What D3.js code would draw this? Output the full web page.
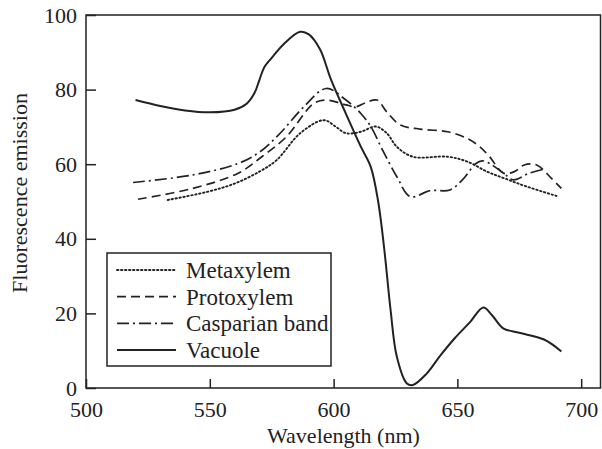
<!DOCTYPE html>
<html>
<head>
<meta charset="utf-8">
<script src="https://cdn.jsdelivr.net/npm/d3@7"></script>
<style>
  html, body { margin: 0; padding: 0; background: #fff; }
  svg { display: block; }
  text { font-family: "Liberation Serif", "Times New Roman", serif; fill: #222; }
</style>
</head>
<body>
<svg id="chart" width="602" height="449"></svg>
<script>
// ---- data ----
const xTicks = [500, 550, 600, 650, 700];
const yTicks = [0, 20, 40, 60, 80, 100];

const metaxylemX = [533, 549, 560, 570, 577, 586.5, 596, 601, 605, 611, 617, 621.5, 625.5, 632, 646, 654, 662, 669, 678, 690];
const metaxylemY = [50.4, 52.6, 54.8, 58, 61.1, 68.3, 71.8, 70, 68.3, 68.7, 70.1, 68.3, 64.7, 62, 62, 60.7, 58, 56.2, 54, 51.5];

const protoxylemX = [521, 543, 561.5, 571, 581, 592, 597, 605, 609, 613, 617.5, 621.5, 627, 635, 646, 654, 659, 663, 668.6, 673, 677, 682, 688, 692];
const protoxylemY = [50.6, 53.5, 57.6, 62, 67.4, 76.3, 77.2, 75.9, 75.4, 76.5, 77.2, 74, 70.5, 69.4, 68.7, 66.9, 64.7, 62, 57.6, 58, 59.8, 59.8, 56.2, 53.5];

const casparianX = [519, 543, 561.5, 570, 578.4, 588, 597, 605, 611, 615, 620, 625.5, 631, 639, 647, 652, 657.5, 660, 663, 668.6, 672.6, 679, 684.5];
const casparianY = [55.1, 57.1, 60.2, 63.2, 68.3, 75.4, 80.3, 77.2, 73.6, 70.1, 63.5, 56.7, 51.3, 52.9, 53.1, 55.8, 60.2, 60.9, 60.2, 57.6, 55.8, 57.6, 58.6];

const vacuoleX = [520, 530, 540, 550, 560, 565, 568, 570, 572, 575, 580, 586.5, 590, 594.5, 599, 605, 611, 615, 618, 620.5, 623, 625.5, 629.5, 632, 637.5, 643, 649, 655, 660.5, 664, 668.5, 675, 685, 692];
const vacuoleY = [77.2, 75.6, 74.4, 73.9, 74.6, 76.3, 79, 82.5, 86, 88.5, 92.3, 95.5, 94.8, 90.8, 82.6, 73.5, 64.7, 59.3, 50, 37, 21, 8.5, 1.3, 0.8, 3.8, 8.6, 13.4, 17.6, 21.6, 19.5, 16, 14.8, 13, 9.8];

const seriesNames = ["Metaxylem", "Protoxylem", "Casparian band", "Vacuole"];
const seriesX = [metaxylemX, protoxylemX, casparianX, vacuoleX];
const seriesY = [metaxylemY, protoxylemY, casparianY, vacuoleY];
const dashes = ["1.4,2.6", "9,5", "12,4,2,4", null];
const widths = [1.9, 1.7, 1.7, 2];

// ---- chart ----
const svg = d3.select("#chart");
const x = d3.scaleLinear().domain([500, 708]).range([86, 601]);
const y = d3.scaleLinear().domain([0, 100]).range([388, 15]);
const ink = "#222";

// frame
svg.append("rect")
  .attr("x", x(500)).attr("y", y(100))
  .attr("width", x(708) - x(500) - 0.5).attr("height", y(0) - y(100))
  .attr("fill", "none").attr("stroke", ink).attr("stroke-width", 1.5);

// axes (inner ticks)
const xAxis = svg.append("g").attr("transform", `translate(0,${y(0)})`)
  .call(d3.axisBottom(x).tickValues(xTicks).tickSize(-9).tickPadding(13).tickFormat(d3.format("d")));
const yAxis = svg.append("g").attr("transform", `translate(${x(500)},0)`)
  .call(d3.axisLeft(y).tickValues(yTicks).tickSize(-10).tickPadding(9).tickFormat(d3.format("d")));
[xAxis, yAxis].forEach(g => {
  g.select(".domain").remove();
  g.selectAll(".tick line").attr("stroke", ink).attr("stroke-width", 1.5);
  g.selectAll(".tick text").attr("font-size", 22).attr("fill", ink)
    .style("font-family", '"Liberation Serif", "Times New Roman", serif');
});
xAxis.selectAll(".tick text").attr("dy", "0.71em");

// axis titles
svg.append("text").attr("x", (x(500) + x(708)) / 2).attr("y", 443)
  .attr("text-anchor", "middle").attr("font-size", 22).text("Wavelength (nm)");
svg.append("text").attr("transform", "translate(27,193) rotate(-90)")
  .attr("text-anchor", "middle").attr("font-size", 22).text("Fluorescence emission");

// lines
const line = d3.line().x(d => x(d[0])).y(d => y(d[1])).curve(d3.curveCatmullRom.alpha(0.5));
seriesNames.forEach((name, i) => {
  const pts = seriesX[i].map((v, j) => [v, seriesY[i][j]]);
  svg.append("path").datum(pts)
    .attr("d", line)
    .attr("fill", "none").attr("stroke", ink)
    .attr("stroke-width", widths[i])
    .attr("stroke-dasharray", dashes[i])
    .attr("stroke-linecap", i === 0 ? "round" : "butt");
});

// legend
const lg = svg.append("g");
lg.append("rect").attr("x", 107).attr("y", 253).attr("width", 224).attr("height", 113)
  .attr("fill", "#fff").attr("stroke", ink).attr("stroke-width", 1.5);
seriesNames.forEach((name, i) => {
  const cy = 270 + i * 26.7;
  lg.append("line").attr("x1", 117).attr("x2", 176).attr("y1", cy).attr("y2", cy)
    .attr("stroke", ink).attr("stroke-width", widths[i])
    .attr("stroke-dasharray", dashes[i])
    .attr("stroke-linecap", i === 0 ? "round" : "butt");
  lg.append("text").attr("x", 186).attr("y", cy).attr("dy", "0.35em")
    .attr("font-size", 23).text(name);
});
</script>
</body>
</html>
